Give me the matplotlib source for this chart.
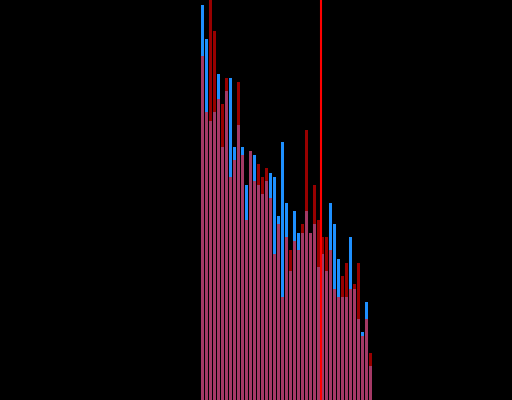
#!/usr/bin/env python3
"""Overlaid bar comparison: blue series under a translucent red series, with a marker line."""
import matplotlib

matplotlib.use("Agg")
import matplotlib.pyplot as plt
import numpy as np

STYLE = {
    "bg": "#000000",
    "blue": "#1e90ff",
    "red": "#ff0000",
    "line": "#ff0000",
}

# bin index for every bar pair
bins = list(range(43))

blue_values = [
    98.75, 90.25, 69.75, 72.0, 81.5, 63.25, 77.25, 80.5, 63.25, 68.75, 63.25,
    53.75, 62.25, 61.25, 53.75, 51.5, 54.75, 56.75, 55.75, 46.0, 64.5, 49.25,
    32.25, 47.25, 41.75, 41.75, 47.25, 41.75, 44.0, 33.25, 36.5, 32.25, 49.25,
    44.0, 35.25, 25.75, 25.75, 40.75, 27.75, 20.25, 17.0, 24.5, 8.5,
]
red_values = [
    86.0, 72.0, 101.0, 92.25, 75.25, 74.0, 80.5, 55.75, 60.0, 79.5, 61.25,
    45.0, 62.25, 54.75, 59.0, 55.75, 58.0, 50.5, 36.5, 44.0, 25.75, 40.75,
    37.5, 39.75, 37.5, 44.0, 67.5, 41.75, 53.75, 45.0, 40.75, 40.75, 37.5,
    27.75, 25.75, 31.0, 34.25, 27.75, 29.0, 34.25, 16.0, 20.25, 11.75,
]
marker_x = 29.6


def main() -> None:
    fig = plt.figure(figsize=(5.12, 4.0), dpi=100)
    fig.patch.set_facecolor(STYLE["bg"])
    ax = fig.add_axes([0, 0, 1, 1])
    ax.set_facecolor(STYLE["bg"])

    ax.bar(bins, blue_values, width=0.75, color=STYLE["blue"], linewidth=0)
    ax.bar(bins, red_values, width=0.75, color=STYLE["red"], alpha=0.6, linewidth=0)
    ax.axvline(marker_x, color=STYLE["line"], linewidth=1.5)

    ax.set_xlim(-50.6, 77.4)
    ax.set_ylim(0, 100)
    ax.axis("off")

    fig.savefig("out.png", dpi=100, facecolor=STYLE["bg"])
    plt.close(fig)


if __name__ == "__main__":
    main()
